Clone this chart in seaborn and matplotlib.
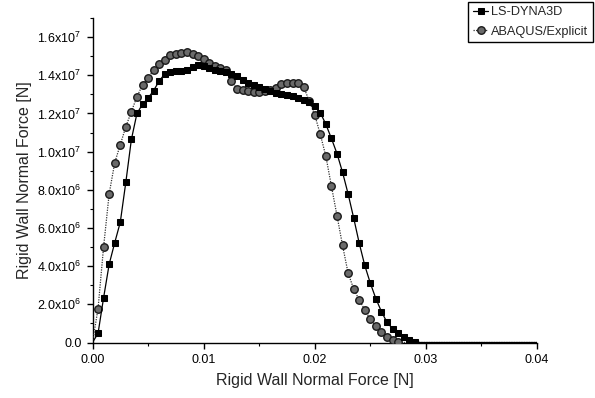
import matplotlib
matplotlib.use("Agg")
import matplotlib.pyplot as plt
import seaborn as sns
import pandas as pd
from matplotlib.ticker import MultipleLocator

# ---- data ----
time_s = [0.0000, 0.0005, 0.0010, 0.0015, 0.0020, 0.0025, 0.0030, 0.0035, 0.0040, 0.0045,
          0.0050, 0.0055, 0.0060, 0.0065, 0.0070, 0.0075, 0.0080, 0.0085, 0.0090, 0.0095,
          0.0100, 0.0105, 0.0110, 0.0115, 0.0120, 0.0125, 0.0130, 0.0135, 0.0140, 0.0145,
          0.0150, 0.0155, 0.0160, 0.0165, 0.0170, 0.0175, 0.0180, 0.0185, 0.0190, 0.0195,
          0.0200, 0.0205, 0.0210, 0.0215, 0.0220, 0.0225, 0.0230, 0.0235, 0.0240, 0.0245,
          0.0250, 0.0255, 0.0260, 0.0265, 0.0270, 0.0275, 0.0280, 0.0285, 0.0290, 0.0295,
          0.0300, 0.0305, 0.0310, 0.0315, 0.0320, 0.0325, 0.0330, 0.0335, 0.0340, 0.0345,
          0.0350, 0.0355, 0.0360, 0.0365, 0.0370, 0.0375, 0.0380, 0.0385, 0.0390, 0.0395,
          0.0400]

# force values in units of 1e6 N
lsdyna_mN = [0.00, 0.48, 2.35, 4.10, 5.23, 6.30, 8.40, 10.64, 12.00, 12.48,
             12.80, 13.20, 13.70, 14.07, 14.15, 14.20, 14.22, 14.30, 14.45, 14.55,
             14.50, 14.38, 14.30, 14.22, 14.15, 14.08, 13.95, 13.75, 13.60, 13.50,
             13.40, 13.28, 13.15, 13.05, 13.00, 12.95, 12.90, 12.82, 12.72, 12.60,
             12.40, 12.04, 11.43, 10.69, 9.90, 8.92, 7.79, 6.53, 5.21, 4.04,
             3.11, 2.30, 1.62, 1.06, 0.73, 0.48, 0.27, 0.13, 0.03, 0.00,
             0.00, 0.00, 0.00, 0.00, 0.00, 0.00, 0.00, 0.00, 0.00, 0.00,
             0.00, 0.00, 0.00, 0.00, 0.00, 0.00, 0.00, 0.00, 0.00, 0.00,
             0.00]

abaqus_mN = [0.00, 1.78, 5.02, 7.79, 9.42, 10.36, 11.31, 12.10, 12.88, 13.48,
             13.85, 14.28, 14.60, 14.81, 15.05, 15.10, 15.18, 15.20, 15.10, 15.00,
             14.85, 14.65, 14.50, 14.38, 14.25, 13.70, 13.30, 13.23, 13.18, 13.12,
             13.10, 13.15, 13.22, 13.35, 13.55, 13.58, 13.60, 13.62, 13.40, 12.65,
             11.92, 10.90, 9.76, 8.19, 6.65, 5.09, 3.64, 2.81, 2.23, 1.71,
             1.22, 0.87, 0.57, 0.30, 0.13, 0.03, 0.00, 0.00, 0.00, 0.00,
             0.00, 0.00, 0.00, 0.00, 0.00, 0.00, 0.00, 0.00, 0.00, 0.00,
             0.00, 0.00, 0.00, 0.00, 0.00, 0.00, 0.00, 0.00, 0.00, 0.00,
             0.00]

series_names = ["LS-DYNA3D", "ABAQUS/Explicit"]
x_ticks = [0.00, 0.01, 0.02, 0.03, 0.04]
x_tick_labels = ["0.00", "0.01", "0.02", "0.03", "0.04"]
y_ticks = [0, 2e6, 4e6, 6e6, 8e6, 1.0e7, 1.2e7, 1.4e7, 1.6e7]
y_tick_labels = ["0.0", r"2.0x10$^6$", r"4.0x10$^6$", r"6.0x10$^6$", r"8.0x10$^6$",
                 r"1.0x10$^7$", r"1.2x10$^7$", r"1.4x10$^7$", r"1.6x10$^7$"]
x_label = "Rigid Wall Normal Force [N]"
y_label = "Rigid Wall Normal Force [N]"

df = pd.DataFrame({
    "t": time_s,
    "ls": [v * 1e6 for v in lsdyna_mN],
    "ab": [v * 1e6 for v in abaqus_mN],
})

# ---- style ----
sns.set_style("ticks")
plt.rcParams["font.family"] = ["Liberation Sans", "DejaVu Sans"]
plt.rcParams["mathtext.fontset"] = "custom"
plt.rcParams["mathtext.rm"] = "Liberation Sans"
plt.rcParams["mathtext.it"] = "Liberation Sans:italic"
plt.rcParams["mathtext.default"] = "regular"

fig = plt.figure(figsize=(5.95, 3.98), dpi=100)
ax = fig.add_axes([92.5 / 595, 1 - 342.5 / 398, (537 - 92.5) / 595, (342.5 - 18) / 398])

ls_mark = [i for i, v in enumerate(lsdyna_mN) if v > 0]
ab_mark = [i for i, v in enumerate(abaqus_mN) if v > 0]

sns.lineplot(data=df, x="t", y="ab", ax=ax, color="#333333", linewidth=0.9,
             linestyle=(0, (1, 1)), marker="o", markersize=5.4,
             markerfacecolor="#6a6a6a", markeredgecolor="#1a1a1a", markeredgewidth=1.0,
             markevery=ab_mark, label=series_names[1], zorder=3)
sns.lineplot(data=df, x="t", y="ls", ax=ax, color="black", linewidth=0.9,
             marker="s", markersize=5.0, markerfacecolor="black", markeredgecolor="black",
             markevery=ls_mark, label=series_names[0], zorder=4)

ax.set_xlim(0, 0.04)
ax.set_ylim(0, 1.7e7)
ax.set_xticks(x_ticks)
ax.set_xticklabels(x_tick_labels)
ax.set_yticks(y_ticks)
ax.set_yticklabels(y_tick_labels)
ax.xaxis.set_minor_locator(MultipleLocator(0.005))
ax.yaxis.set_minor_locator(MultipleLocator(1e6))

for s in ["top", "right"]:
    ax.spines[s].set_visible(False)
for s in ["left", "bottom"]:
    ax.spines[s].set_linewidth(1.0)
    ax.spines[s].set_color("black")

ax.tick_params(which="major", direction="out", length=4, width=1.0, labelsize=9,
               colors="black", pad=4)
ax.tick_params(which="minor", direction="out", length=2, width=0.8, colors="black")

ax.set_xlabel(x_label, fontsize=11.5, labelpad=5)
ax.set_ylabel(y_label, fontsize=11.5, labelpad=4)

handles, labels = ax.get_legend_handles_labels()
order = [labels.index(series_names[0]), labels.index(series_names[1])]
if ax.legend_:
    ax.legend_.remove()
leg = fig.legend([handles[i] for i in order], [labels[i] for i in order],
                 loc="upper right", bbox_to_anchor=(593 / 595, 1 - 2 / 398),
                 frameon=True, fancybox=False, edgecolor="black", framealpha=1,
                 fontsize=9.2, handlelength=1.2, handletextpad=0.25,
                 borderpad=0.35, labelspacing=0.55, borderaxespad=0)
leg.get_frame().set_linewidth(1.0)

fig.savefig("out.png", dpi=100)
